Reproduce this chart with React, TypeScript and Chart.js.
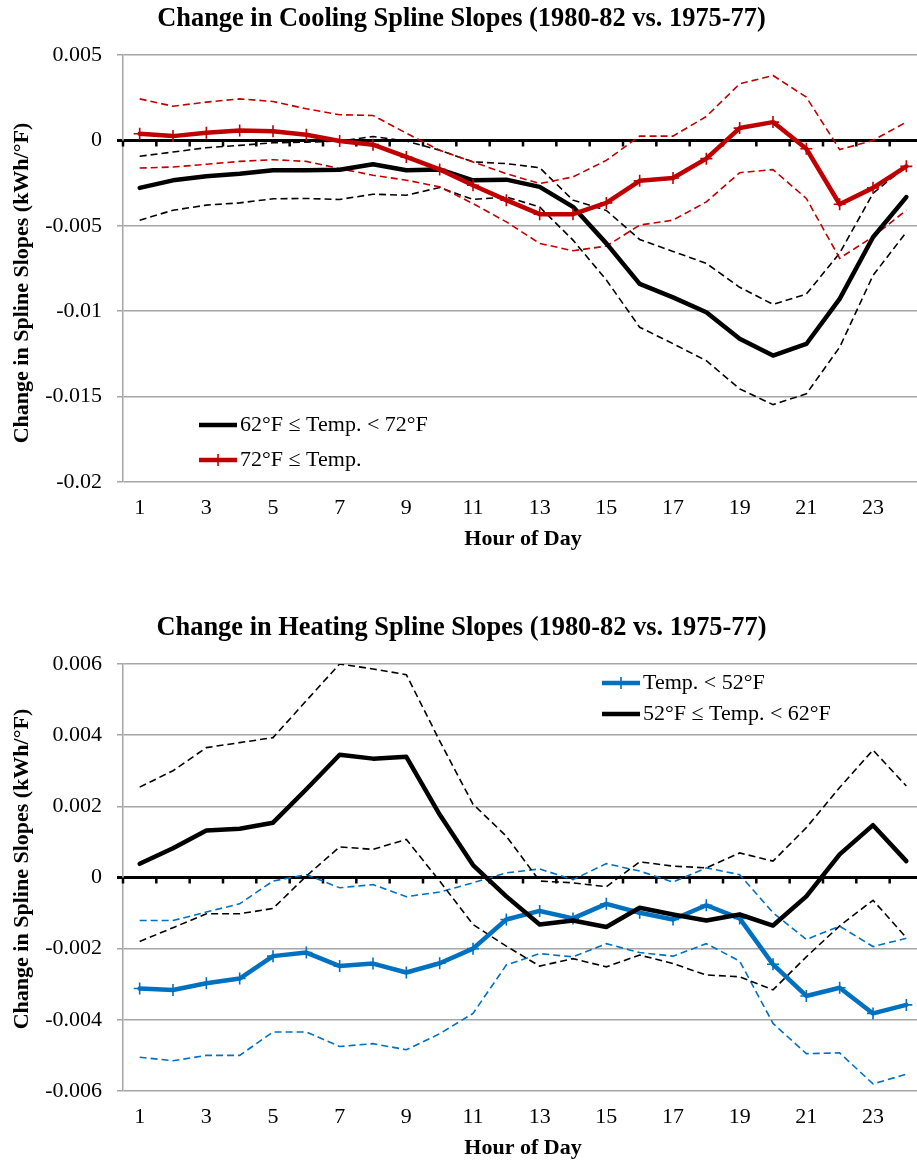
import { useEffect, useRef } from 'react';
import { Chart, registerables } from 'chart.js';
Chart.register(...registerables);

const FONT = "'Liberation Serif', 'Times New Roman', Times, serif";

// ---------- data ----------
const hours = ['1', '2', '3', '4', '5', '6', '7', '8', '9', '10', '11', '12', '13', '14', '15', '16', '17', '18', '19', '20', '21', '22', '23', '24'];

const coolTitle = 'Change in Cooling Spline Slopes (1980-82 vs. 1975-77)';
const heatTitle = 'Change in Heating Spline Slopes (1980-82 vs. 1975-77)';
const yTitle = 'Change in Spline Slopes (kWh/°F)';
const xTitle = 'Hour of Day';

const cool62Label = '62°F ≤ Temp. < 72°F';
const cool62 = [-0.00278, -0.00234, -0.0021, -0.00195, -0.00175, -0.00175, -0.00172, -0.0014, -0.00175, -0.0017, -0.00234, -0.0023, -0.00272, -0.00389, -0.00603, -0.0084, -0.00919, -0.01006, -0.01162, -0.0126, -0.01192, -0.00928, -0.00567, -0.00332];
const cool62Upper = [-0.00093, -0.00068, -0.00043, -0.00029, -0.00014, -0.0001, -0.00004, 0.00023, -0.00004, -0.00058, -0.00126, -0.00136, -0.0016, -0.0035, -0.0041, -0.0058, -0.0065, -0.0072, -0.0086, -0.0096, -0.009, -0.0066, -0.0031, -0.0015];
const cool62Lower = [-0.00467, -0.00409, -0.00379, -0.00366, -0.00342, -0.0034, -0.00346, -0.00315, -0.00321, -0.00276, -0.00346, -0.00331, -0.0039, -0.00584, -0.00817, -0.01094, -0.0119, -0.0129, -0.01455, -0.01547, -0.01484, -0.01211, -0.00791, -0.00537];

const cool72Label = '72°F ≤ Temp.';
const cool72 = [0.00039, 0.00025, 0.00045, 0.00058, 0.00053, 0.00033, -0.00004, -0.00025, -0.00097, -0.0017, -0.00263, -0.0035, -0.00432, -0.00432, -0.00366, -0.00237, -0.0022, -0.00107, 0.00072, 0.00107, -0.00049, -0.00374, -0.00278, -0.00152];
const cool72Upper = [0.00243, 0.002, 0.00224, 0.00243, 0.00228, 0.00185, 0.0015, 0.00146, 0.00042, -0.00058, -0.00126, -0.00195, -0.00253, -0.00214, -0.00117, 0.00025, 0.00025, 0.0014, 0.00331, 0.0038, 0.00253, -0.00054, 0, 0.00107];
const cool72Lower = [-0.00162, -0.00156, -0.0014, -0.00123, -0.00113, -0.00123, -0.00165, -0.00204, -0.00233, -0.00272, -0.0037, -0.00477, -0.00603, -0.00646, -0.00619, -0.00496, -0.00467, -0.0036, -0.00189, -0.00171, -0.0034, -0.0069, -0.00564, -0.00409];

const heat52Label = 'Temp. < 52°F';
const heat52 = [-0.00312, -0.00316, -0.00297, -0.00284, -0.00221, -0.00211, -0.00249, -0.00242, -0.00267, -0.00241, -0.002, -0.00118, -0.00094, -0.00115, -0.00074, -0.00099, -0.00118, -0.00078, -0.00115, -0.00244, -0.00333, -0.0031, -0.00382, -0.00358];
const heat52Upper = [-0.00121, -0.00121, -0.00097, -0.00074, -0.0001, 0.00008, -0.00029, -0.0002, -0.00054, -0.00041, -0.00015, 0.00013, 0.00024, -0.00006, 0.00039, 0.00018, -0.00013, 0.00027, 0.00008, -0.00099, -0.00174, -0.00137, -0.00194, -0.00171];
const heat52Lower = [-0.00505, -0.00515, -0.005, -0.005, -0.00434, -0.00434, -0.00475, -0.00467, -0.00484, -0.00439, -0.00382, -0.00246, -0.00214, -0.00223, -0.00186, -0.00211, -0.00221, -0.00186, -0.00235, -0.0041, -0.00495, -0.00493, -0.0058, -0.00553];

const heat62Label = '52°F ≤ Temp. < 62°F';
const heat62 = [0.000385, 0.00082, 0.00132, 0.00137, 0.00154, 0.00248, 0.00345, 0.00334, 0.00339, 0.00177, 0.00035, -0.00053, -0.00132, -0.00121, -0.00139, -0.00085, -0.00104, -0.00121, -0.00104, -0.00135, -0.00053, 0.00065, 0.00147, 0.00046];
const heat62Upper = [0.00254, 0.003, 0.00365, 0.00379, 0.00393, 0.00497, 0.006, 0.00586, 0.0057, 0.00384, 0.00206, 0.00116, -0.0001, -0.00015, -0.00026, 0.00044, 0.00032, 0.00027, 0.00069, 0.00046, 0.0014, 0.00253, 0.00358, 0.00257];
const heat62Lower = [-0.0018, -0.00141, -0.00102, -0.00102, -0.00087, 0.00004, 0.00086, 0.00079, 0.00107, -0.0001, -0.00132, -0.00193, -0.00249, -0.00228, -0.00251, -0.00218, -0.00242, -0.00274, -0.00279, -0.00316, -0.00223, -0.00136, -0.00064, -0.00169];

const coolTickValues = [0.005, 0, -0.005, -0.01, -0.015, -0.02];
const coolTickLabels = ['0.005', '0', '-0.005', '-0.01', '-0.015', '-0.02'];
const heatTickValues = [0.006, 0.004, 0.002, 0, -0.002, -0.004, -0.006];
const heatTickLabels = ['0.006', '0.004', '0.002', '0', '-0.002', '-0.004', '-0.006'];

// ---------- styles ----------
const BLACK = '#000000';
const RED = '#C00000';
const BLUE = '#0070C0';
const GRID = '#a6a6a6';

function solid(label: string, data: number[], color: string, marker: boolean, order: number) {
  return {
    label,
    data,
    borderColor: color,
    backgroundColor: color,
    borderWidth: 4.5,
    borderJoinStyle: 'round',
    borderCapStyle: 'round',
    pointStyle: marker ? 'cross' : 'circle',
    pointRadius: marker ? 6 : 0,
    pointBorderWidth: 1.6,
    pointBorderColor: color,
    pointBackgroundColor: color,
    tension: 0,
    order,
  };
}

function dashed(data: number[], color: string, order: number) {
  return {
    label: '',
    data,
    borderColor: color,
    borderWidth: 1.6,
    borderDash: [7, 4],
    pointRadius: 0,
    tension: 0,
    order,
  };
}

const zeroTicks = {
  id: 'zeroTicks',
  beforeDatasetsDraw(chart: any) {
    const xs = chart.scales.x;
    const ys = chart.scales.y;
    const y0 = ys.getPixelForValue(0);
    const n = chart.data.labels.length;
    const step = (xs.right - xs.left) / n;
    const ctx = chart.ctx;
    ctx.save();
    ctx.strokeStyle = BLACK;
    ctx.lineWidth = 2.5;
    ctx.beginPath();
    for (let i = 0; i <= n; i++) {
      const px = xs.getPixelForValue(i) - step / 2;
      ctx.moveTo(px, y0);
      ctx.lineTo(px, y0 + 6);
    }
    ctx.stroke();
    ctx.restore();
  },
};

const customLegend = {
  id: 'customLegend',
  afterDatasetsDraw(chart: any, _args: any, opts: any) {
    const ctx = chart.ctx;
    const ca = chart.chartArea;
    (opts.items || []).forEach((idx: number, i: number) => {
      const ds = chart.data.datasets[idx];
      const x0 = ca.left + opts.x;
      const y0 = ca.top + opts.y + i * opts.dy;
      ctx.save();
      ctx.strokeStyle = ds.borderColor;
      ctx.lineWidth = ds.borderWidth;
      ctx.lineCap = 'butt';
      ctx.beginPath();
      ctx.moveTo(x0, y0);
      ctx.lineTo(x0 + opts.len, y0);
      ctx.stroke();
      if (ds.pointStyle === 'cross') {
        ctx.lineWidth = ds.pointBorderWidth;
        ctx.beginPath();
        ctx.moveTo(x0 + opts.len / 2, y0 - ds.pointRadius);
        ctx.lineTo(x0 + opts.len / 2, y0 + ds.pointRadius);
        ctx.stroke();
      }
      ctx.fillStyle = BLACK;
      ctx.font = `22px ${FONT}`;
      ctx.textBaseline = 'middle';
      ctx.textAlign = 'left';
      ctx.fillText(ds.label, x0 + opts.len + 3, y0);
      ctx.restore();
    });
  },
};

const yAxisTitle = {
  id: 'yAxisTitle',
  afterDraw(chart: any, _args: any, opts: any) {
    const ctx = chart.ctx;
    ctx.save();
    ctx.translate(opts.x, opts.y);
    ctx.rotate(-Math.PI / 2);
    ctx.fillStyle = BLACK;
    ctx.font = `bold 22px ${FONT}`;
    ctx.textAlign = 'center';
    ctx.textBaseline = 'middle';
    ctx.fillText(opts.text, 0, 0);
    ctx.restore();
  },
};

function makeConfig(title: string, datasets: any[], min: number, max: number, step: number, tickValues: number[], tickLabels: string[], legend: any, yTitleY: number) {
  return {
    type: 'line',
    data: { labels: hours, datasets },
    plugins: [zeroTicks, customLegend, yAxisTitle],
    options: {
      animation: false,
      responsive: false,
      devicePixelRatio: 1,
      layout: { padding: 0, autoPadding: false },
      plugins: {
        legend: { display: false },
        tooltip: { enabled: false },
        title: {
          display: true,
          text: title,
          color: BLACK,
          font: { family: FONT, size: 26.4, weight: 'bold' },
          padding: { top: 3.5, bottom: 19.8 },
        },
        customLegend: legend,
        yAxisTitle: { text: yTitle, x: 22, y: yTitleY },
      },
      scales: {
        x: {
          type: 'category',
          offset: true,
          grid: { display: false, drawTicks: false },
          border: { display: false },
          ticks: {
            autoSkip: false,
            maxRotation: 0,
            minRotation: 0,
            padding: 13,
            color: BLACK,
            font: { family: FONT, size: 22 },
            callback(this: any, val: any, index: number) {
              return index % 2 === 0 ? this.getLabelForValue(val) : '';
            },
          },
          title: {
            display: true,
            text: xTitle,
            color: BLACK,
            font: { family: FONT, size: 22, weight: 'bold' },
            padding: { top: 5, bottom: 0 },
          },
          afterFit(scale: any) {
            scale.height = 71;
          },
        },
        y: {
          min,
          max,
          ticks: {
            stepSize: step,
            padding: 15,
            color: BLACK,
            font: { family: FONT, size: 22 },
            callback(value: number) {
              const i = tickValues.findIndex((v) => Math.abs(v - value) < 1e-9);
              return i >= 0 ? tickLabels[i] : '';
            },
          },
          grid: {
            drawTicks: true,
            tickLength: 6,
            color: (c: any) => (c.tick && Math.abs(c.tick.value) < 1e-12 ? BLACK : GRID),
            tickColor: (c: any) => (c.tick && Math.abs(c.tick.value) < 1e-12 ? BLACK : GRID),
            lineWidth: (c: any) => (c.tick && Math.abs(c.tick.value) < 1e-12 ? 3 : 1.5),
          },
          border: { display: true, color: GRID, width: 1.5 },
          title: { display: false },
          afterFit(scale: any) {
            scale.width = 123;
          },
        },
      },
    },
  };
}

function ChartCanvas({ config, top }: { config: any; top: number }) {
  const ref = useRef<HTMLCanvasElement>(null);
  useEffect(() => {
    if (!ref.current) return;
    const chart = new Chart(ref.current, config);
    return () => chart.destroy();
  }, [config]);
  return (
    <canvas
      ref={ref}
      width={923}
      height={553}
      style={{ position: 'absolute', left: 0, top, width: 923, height: 553, display: 'block' }}
    />
  );
}

const coolConfig = makeConfig(
  coolTitle,
  [
    solid(cool72Label, cool72, RED, true, 0),
    solid(cool62Label, cool62, BLACK, false, 1),
    dashed(cool72Upper, RED, 2),
    dashed(cool72Lower, RED, 3),
    dashed(cool62Upper, BLACK, 4),
    dashed(cool62Lower, BLACK, 5),
  ],
  -0.02,
  0.005,
  0.005,
  coolTickValues,
  coolTickLabels,
  { items: [1, 0], x: 76, y: 370, dy: 35, len: 38 },
  283
);

const heatConfig = makeConfig(
  heatTitle,
  [
    solid(heat62Label, heat62, BLACK, false, 0),
    solid(heat52Label, heat52, BLUE, true, 1),
    dashed(heat62Upper, BLACK, 2),
    dashed(heat62Lower, BLACK, 3),
    dashed(heat52Upper, BLUE, 4),
    dashed(heat52Lower, BLUE, 5),
  ],
  -0.006,
  0.006,
  0.002,
  heatTickValues,
  heatTickLabels,
  { items: [1, 0], x: 479, y: 19, dy: 31, len: 38 },
  260
);

export default function App() {
  return (
    <div
      style={{
        position: 'absolute',
        left: 0,
        top: 0,
        width: 917,
        height: 1162,
        overflow: 'hidden',
        background: '#ffffff',
      }}
    >
      <ChartCanvas config={coolConfig} top={0} />
      <ChartCanvas config={heatConfig} top={609} />
    </div>
  );
}
